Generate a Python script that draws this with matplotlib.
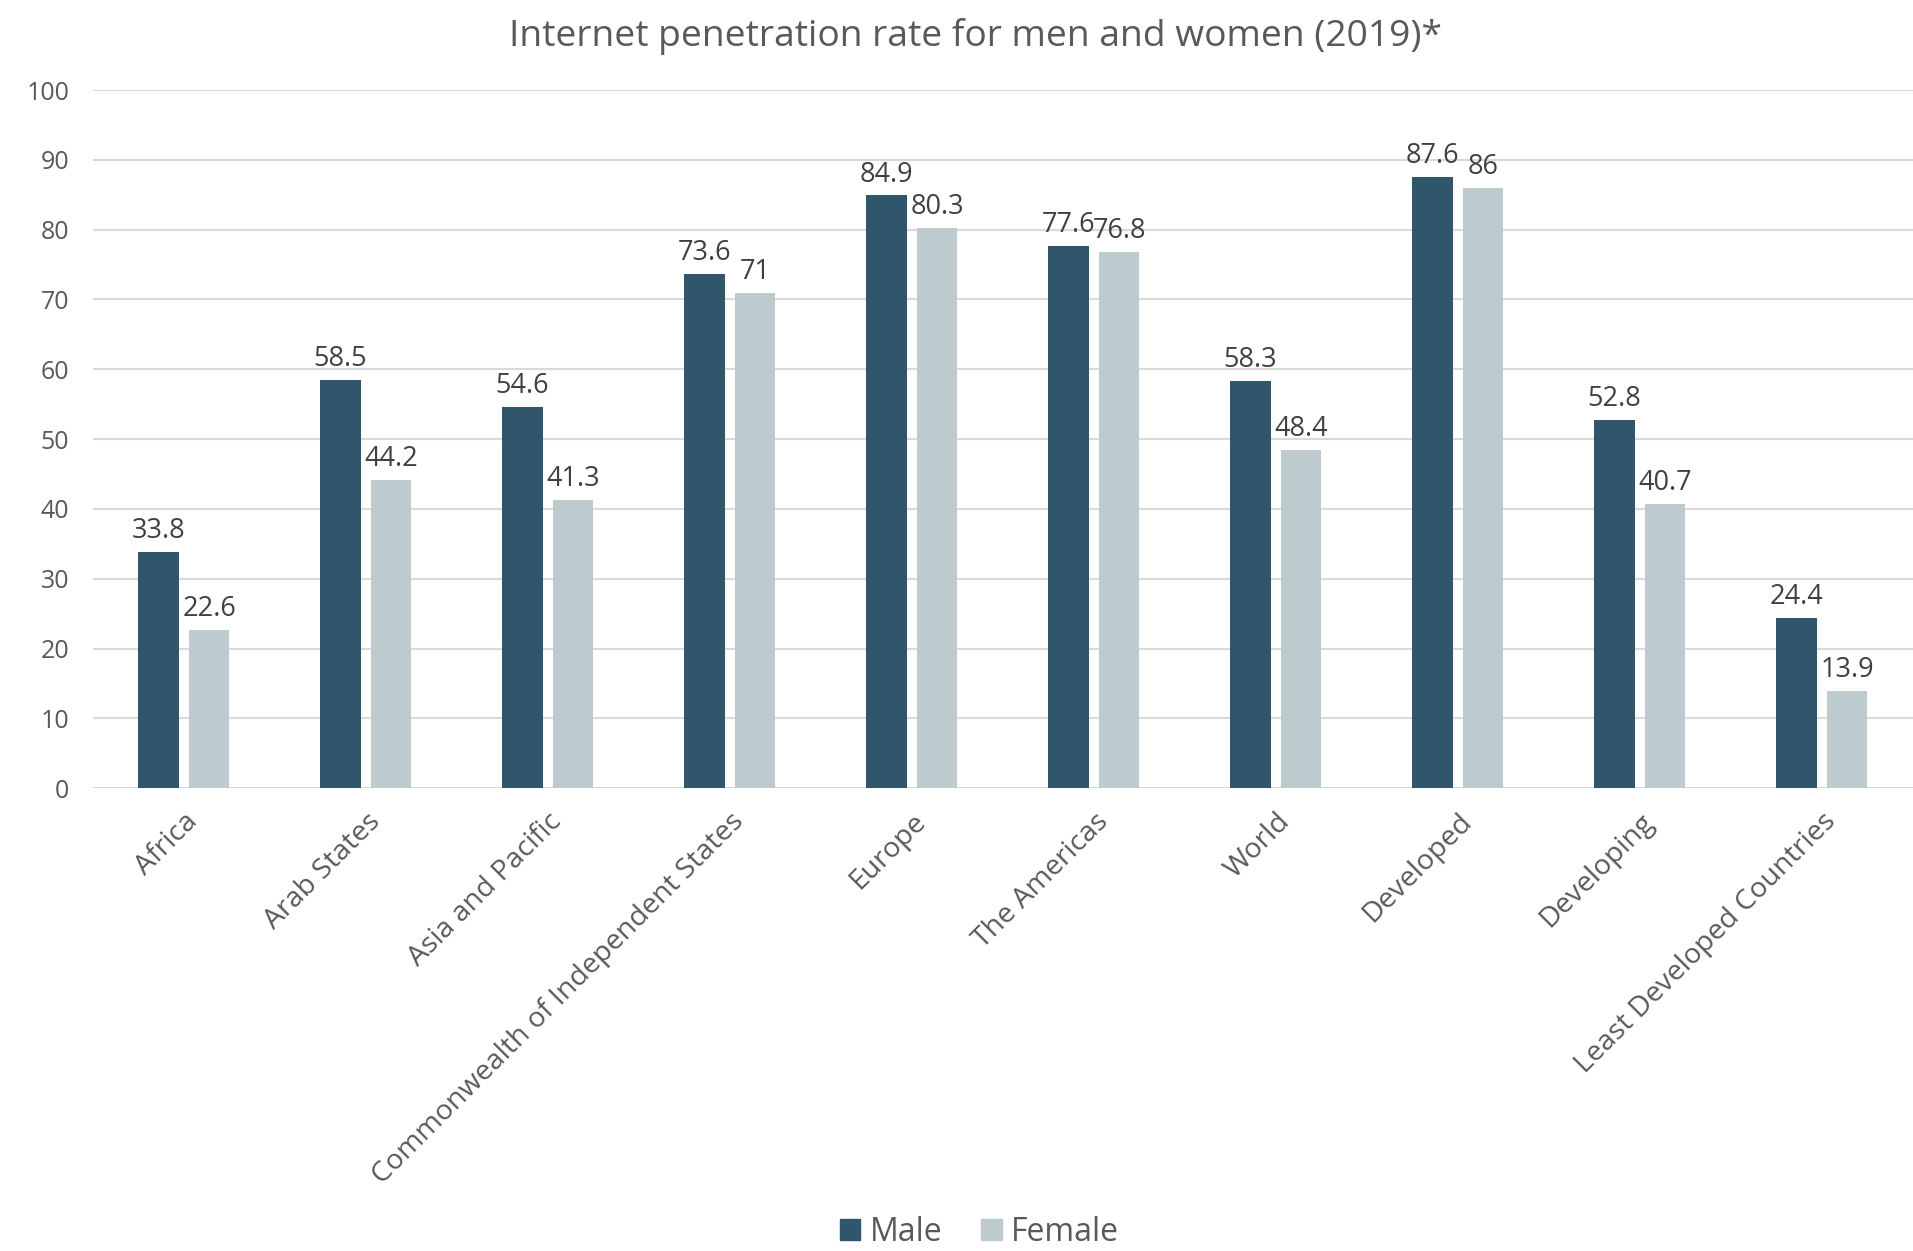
import matplotlib
matplotlib.use("Agg")
import matplotlib.pyplot as plt
import numpy as np
from matplotlib.patches import Patch

plt.rcParams['font.family'] = ['Open Sans', 'DejaVu Sans']

regions = ["Africa", "Arab States", "Asia and Pacific",
           "Commonwealth of Independent States", "Europe", "The Americas",
           "World", "Developed", "Developing", "Least Developed Countries"]
male = [33.8, 58.5, 54.6, 73.6, 84.9, 77.6, 58.3, 87.6, 52.8, 24.4]
female = [22.6, 44.2, 41.3, 71, 80.3, 76.8, 48.4, 86, 40.7, 13.9]
yticks = [0, 10, 20, 30, 40, 50, 60, 70, 80, 90, 100]

MALE_C = "#30566b"
FEMALE_C = "#bdcbcf"
GRID_C = "#d9d9d9"
TICK_C = "#595959"
LABEL_C = "#404040"

fig = plt.figure(figsize=(19.13, 12.51), dpi=100)
ax = fig.add_axes([0.0486, 0.370, 0.9514, 0.558])

x = np.arange(len(regions))
w = 0.22
off = 0.14
bm = ax.bar(x - off, male, w, color=MALE_C, zorder=3)
bf = ax.bar(x + off, female, w, color=FEMALE_C, zorder=3)

for bars, vals in ((bm, male), (bf, female)):
    for b, v in zip(bars, vals):
        ax.annotate(f"{v:g}", (b.get_x() + b.get_width() / 2, v),
                    xytext=(0, 5), textcoords="offset points",
                    ha="center", va="bottom", fontsize=19.5, color=LABEL_C)

ax.set_xlim(-0.5, len(regions) - 0.5)
ax.set_ylim(0, 100)
ax.set_yticks(yticks)
ax.yaxis.grid(True, color=GRID_C, linewidth=1.5, zorder=0)
ax.set_axisbelow(True)
for s in ax.spines.values():
    s.set_visible(False)
ax.tick_params(axis="both", length=0, colors=TICK_C)
ax.tick_params(axis="y", pad=17, labelsize=18)
ax.set_xticks(x)
ax.set_xticklabels(regions, rotation=45, ha="right", va="top",
                   rotation_mode="anchor", fontsize=20.5)
ax.tick_params(axis="x", pad=14)

fig.text(0.51, 0.971, "Internet penetration rate for men and women (2019)*",
         ha="center", va="center", fontsize=26.8, color=TICK_C)

handles = [Patch(color=MALE_C, label="Male"), Patch(color=FEMALE_C, label="Female")]
fig.legend(handles=handles, loc="center", bbox_to_anchor=(0.512, 0.015),
           ncol=2, frameon=False, fontsize=23, labelcolor=TICK_C,
           handlelength=0.65, handleheight=0.65, handletextpad=0.3,
           columnspacing=1.2)

fig.savefig("out.png", dpi=100, facecolor="white")
